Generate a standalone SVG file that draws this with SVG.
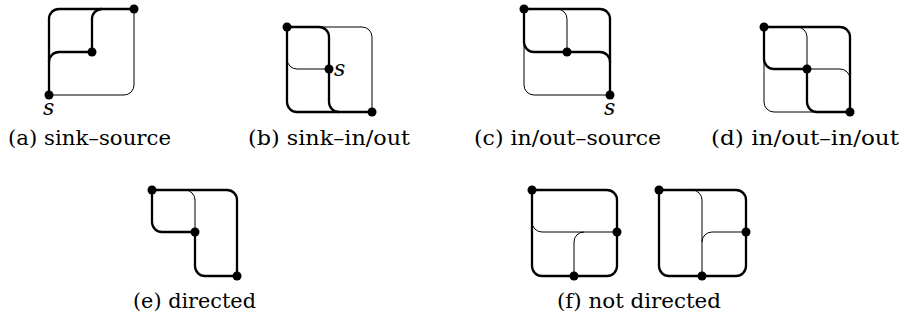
<svg xmlns="http://www.w3.org/2000/svg" width="906" height="320" viewBox="0 0 906 320">
<style>
.thin{fill:none;stroke:#000;stroke-width:1}
.thick{fill:none;stroke:#000;stroke-width:2.3;stroke-linejoin:round}
.v{fill:#000}
.cap{font-family:"DejaVu Serif",serif;font-size:19.5px;fill:#000;text-anchor:middle}
.s{font-family:"DejaVu Serif",serif;font-size:22px;font-style:italic;fill:#000}
</style>
<rect width="906" height="320" fill="#fff"/>
<g id="connectors">
  <path class="thin" d="M49 95 H124 A10 10 0 0 0 134 85 V9"/>
  <path class="thick" d="M49 95 V19 A10 10 0 0 1 59 9 H134"/>
  <path class="thick" d="M92 52 V19 A10 10 0 0 1 102 9"/>
  <path class="thick" d="M92 52 H59 A10 10 0 0 0 49 62"/>
  <path class="thin" d="M287 27 H362 A10 10 0 0 1 372 37 V112"/>
  <path class="thin" d="M329 69 H297 A10 10 0 0 1 287 59"/>
  <path class="thick" d="M287 27 V102 A10 10 0 0 0 297 112 H372"/>
  <path class="thick" d="M287 27 H319 A10 10 0 0 1 329 37 V102 A10 10 0 0 0 339 112"/>
  <path class="thin" d="M567 52 V19 A10 10 0 0 0 557 9"/>
  <path class="thin" d="M524 9 V85 A10 10 0 0 0 534 95 H610"/>
  <path class="thick" d="M524 9 H600 A10 10 0 0 1 610 19 V95"/>
  <path class="thick" d="M524 9 V42 A10 10 0 0 0 534 52 H600 A10 10 0 0 1 610 62"/>
  <path class="thin" d="M807 69 V37 A10 10 0 0 0 797 27"/>
  <path class="thin" d="M807 69 H840 A10 10 0 0 1 850 79"/>
  <path class="thin" d="M764 27 V102 A10 10 0 0 0 774 112 H850"/>
  <path class="thick" d="M764 27 H840 A10 10 0 0 1 850 37 V112"/>
  <path class="thick" d="M764 27 V59 A10 10 0 0 0 774 69 H807 V102 A10 10 0 0 0 817 112 H850"/>
  <path class="thin" d="M195 232 V200 A10 10 0 0 0 185 190"/>
  <path class="thick" d="M152 190 H227 A10 10 0 0 1 237 200 V276"/>
  <path class="thick" d="M152 190 V222 A10 10 0 0 0 162 232 H195 V266 A10 10 0 0 0 205 276 H237"/>
  <path class="thin" d="M532 190 V222 A10 10 0 0 0 542 232 H617"/>
  <path class="thin" d="M574 276 V242 A10 10 0 0 1 584 232"/>
  <path class="thick" d="M532 190 H607 A10 10 0 0 1 617 200 V266 A10 10 0 0 1 607 276 H542 A10 10 0 0 1 532 266 Z"/>
  <path class="thin" d="M692 190 A10 10 0 0 1 702 200 V276"/>
  <path class="thin" d="M702 242 A10 10 0 0 1 712 232 H746"/>
  <path class="thick" d="M659 190 H736 A10 10 0 0 1 746 200 V266 A10 10 0 0 1 736 276 H669 A10 10 0 0 1 659 266 Z"/>
</g>
<g id="a-top"><circle class="v" cx="134" cy="9" r="4.5"/></g>
<g id="a-mid"><circle class="v" cx="92" cy="52" r="4.5"/></g>
<g id="a-s"><circle class="v" cx="49" cy="95" r="4.5"/><text class="s" x="43" y="115">s</text></g>
<g id="b-tl"><circle class="v" cx="287" cy="27" r="4.5"/></g>
<g id="b-s"><circle class="v" cx="329" cy="69" r="4.5"/><text class="s" x="334" y="76">s</text></g>
<g id="b-br"><circle class="v" cx="372" cy="112" r="4.5"/></g>
<g id="c-tl"><circle class="v" cx="524" cy="9" r="4.5"/></g>
<g id="c-mid"><circle class="v" cx="567" cy="52" r="4.5"/></g>
<g id="c-s"><circle class="v" cx="610" cy="95" r="4.5"/><text class="s" x="604" y="115">s</text></g>
<g id="d-tl"><circle class="v" cx="764" cy="27" r="4.5"/></g>
<g id="d-mid"><circle class="v" cx="807" cy="69" r="4.5"/></g>
<g id="d-br"><circle class="v" cx="850" cy="112" r="4.5"/></g>
<g id="e-tl"><circle class="v" cx="152" cy="190" r="4.5"/></g>
<g id="e-mid"><circle class="v" cx="195" cy="232" r="4.5"/></g>
<g id="e-br"><circle class="v" cx="237" cy="276" r="4.5"/></g>
<g id="f1-tl"><circle class="v" cx="532" cy="190" r="4.5"/></g>
<g id="f1-r"><circle class="v" cx="617" cy="232" r="4.5"/></g>
<g id="f1-b"><circle class="v" cx="574" cy="276" r="4.5"/></g>
<g id="f2-tl"><circle class="v" cx="659" cy="190" r="4.5"/></g>
<g id="f2-r"><circle class="v" cx="746" cy="232" r="4.5"/></g>
<g id="f2-b"><circle class="v" cx="702" cy="276" r="4.5"/></g>
<g id="captions">
  <text class="cap" x="89.5" y="145" textLength="163" lengthAdjust="spacingAndGlyphs">(a) sink–source</text>
  <text class="cap" x="329" y="145" textLength="162" lengthAdjust="spacingAndGlyphs">(b) sink–in/out</text>
  <text class="cap" x="567.5" y="145" textLength="187" lengthAdjust="spacingAndGlyphs">(c) in/out–source</text>
  <text class="cap" x="805" y="145" textLength="188" lengthAdjust="spacingAndGlyphs">(d) in/out–in/out</text>
  <text class="cap" x="194.5" y="308" textLength="123" lengthAdjust="spacingAndGlyphs">(e) directed</text>
  <text class="cap" x="639" y="308" textLength="164" lengthAdjust="spacingAndGlyphs">(f) not directed</text>
</g>
</svg>
